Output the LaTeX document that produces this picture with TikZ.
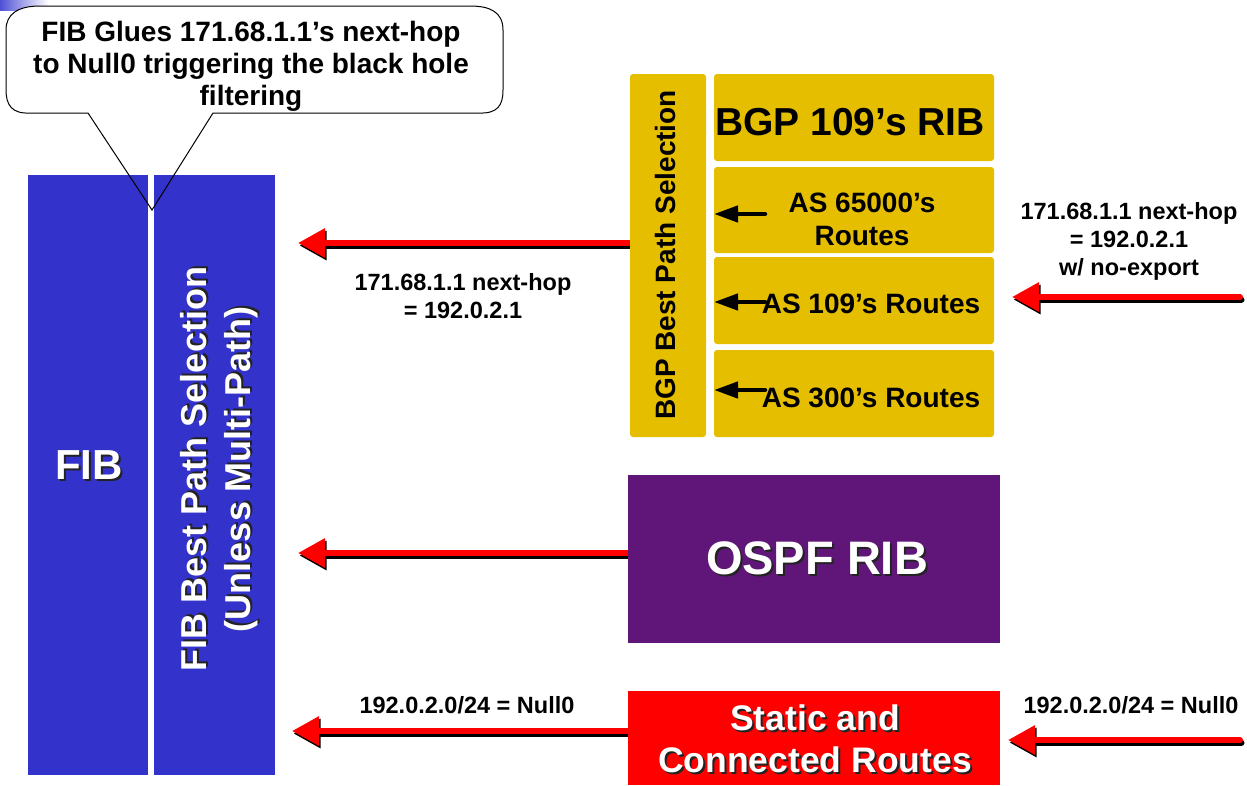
\documentclass[tikz,border=0pt]{standalone}
\usepackage{fontspec}
\setmainfont{Liberation Sans}
\usetikzlibrary{arrows.meta}
\definecolor{fibblue}{RGB}{51,51,204}
\definecolor{bgpgold}{RGB}{230,190,0}
\definecolor{ospfpurple}{RGB}{95,22,120}
\definecolor{shadowgray}{RGB}{35,35,35}
\definecolor{cornerblue}{RGB}{80,80,215}
% bold font of a given size and line spacing
\newcommand\fsz[2]{\fontsize{#1}{#2}\selectfont\bfseries}
% white lettering with a dark drop shadow
\newcommand\shd[1]{\leavevmode\rlap{\hspace{2pt}\raisebox{-2pt}{\textcolor{shadowgray}{#1}}}#1}
% outline of the speech bubble
\newcommand\bubblepath{(88,113) -- (152,210) -- (213,113) -- (478,113)
  .. controls (498,114) and (503,105) .. (503,90) -- (503,30)
  .. controls (503,12) and (490,6) .. (470,6) -- (40,6)
  .. controls (18,6) and (6,14) .. (6,30) -- (6,90)
  .. controls (6,105) and (12,114) .. (30,113) -- cycle}
\begin{document}
\begin{tikzpicture}[x=1pt,y=-1pt,
  panel/.style={draw=none, inner sep=0pt, outer sep=0pt},
  fibbar/.style={panel, fill=fibblue},
  goldbox/.style={panel, fill=bgpgold, rounded corners=3pt},
  txt/.style={inner sep=0pt, align=center, text=black},
  wtxt/.style={inner sep=0pt, align=center, text=white},
  fatarrow/.style={line width=6pt, line cap=round,
    -{Triangle[length=27pt,width=28pt]}},
  redarrow/.style={fatarrow, draw=red},
  arrowshadow/.style={fatarrow, draw=black},
  blackarrow/.style={draw=black, line width=4.5pt, line cap=round,
    -{Triangle[length=24pt,width=16pt]}},
  callout/.style={line width=1pt, line join=miter}
]
\useasboundingbox (0,0) rectangle (1247,785);
\fill[white] (0,0) rectangle (1247,785);
\shade[left color=cornerblue, right color=white] (0,0) rectangle (48,10);

% speech bubble body (fill first, outline after the bars)
\fill[white] \bubblepath;

% free ends of the connectors
\coordinate (t1) at (298,243);
\coordinate (t2) at (298,553);
\coordinate (t3) at (292,731);
\coordinate (s4) at (1240,297);
\coordinate (t4) at (1012,297);
\coordinate (s5) at (1240,740);
\coordinate (t5) at (1008,740);

% FIB columns
\node[fibbar, minimum width=120pt, minimum height=600pt] (fib) at (88,475) {};
\node[fibbar, minimum width=121pt, minimum height=600pt] (fibsel) at (214.5,475) {};
\node[wtxt, font=\fsz{42}{48}] (fibt) at (89,466) {\shd{FIB}};
\node[wtxt, font=\fsz{36}{44}, rotate=90] (fibselt) at (220,469)
  {\shd{FIB Best Path Selection}\\\shd{(Unless Multi-Path)}};

% speech bubble outline and text
\draw[callout] \bubblepath;
\node[txt, font=\fsz{28}{32}] (bubblet) at (251,66)
  {FIB Glues 171.68.1.1’s next-hop\\to Null0 triggering the black hole\\filtering};

% outlines of the source boxes, used as the arrows' start points
\node[panel, minimum width=76pt, minimum height=363pt] (bgpselshape) at (668,255.5) {};
\node[panel, minimum width=372pt, minimum height=168pt] (ospfshape) at (814,559) {};
\node[panel, minimum width=372pt, minimum height=94pt] (staticshape) at (814,738) {};

% red arrows with their dark drop shadow
\begin{scope}[transform canvas={shift={(1.5pt,-2.5pt)}}]
  \draw[arrowshadow] (t1 -| bgpselshape.west) -- (t1);
  \draw[arrowshadow] (t2 -| ospfshape.west) -- (t2);
  \draw[arrowshadow] (t3 -| staticshape.west) -- (t3);
  \draw[arrowshadow] (s4) -- (t4);
  \draw[arrowshadow] (s5) -- (t5);
\end{scope}
\draw[redarrow] (t1 -| bgpselshape.west) -- (t1);
\draw[redarrow] (t2 -| ospfshape.west) -- (t2);
\draw[redarrow] (t3 -| staticshape.west) -- (t3);
\draw[redarrow] (s4) -- (t4);
\draw[redarrow] (s5) -- (t5);

% BGP
\node[goldbox, minimum width=76pt, minimum height=363pt] (bgpsel) at (668,255.5) {};
\node[txt, font=\fsz{28}{34}, rotate=90] (bgpselt) at (665,255) {BGP Best Path Selection};
\node[goldbox, minimum width=280pt, minimum height=87pt] (rib) at (854,117.5) {};
\node[goldbox, minimum width=280pt, minimum height=86pt] (as65000) at (854,210) {};
\node[goldbox, minimum width=280pt, minimum height=87pt] (as109) at (854,300.5) {};
\node[goldbox, minimum width=280pt, minimum height=87pt] (as300) at (854,393.5) {};
\node[txt, font=\fsz{39}{44}] (ribt) at (850,122) {BGP 109’s RIB};
\node[txt, font=\fsz{28}{33}] (as65000t) at (862,219) {AS 65000’s\\Routes};
\node[txt, font=\fsz{28}{33}] (as109t) at (871,304) {AS 109’s Routes};
\node[txt, font=\fsz{28}{33}] (as300t) at (871,398) {AS 300’s Routes};
\coordinate (b1) at (765,214);
\coordinate (b2) at (765,302);
\coordinate (b3) at (765,390);
\draw[blackarrow] (b1) -- (b1 -| as65000.west);
\draw[blackarrow] (b2) -- (b2 -| as109.west);
\draw[blackarrow] (b3) -- (b3 -| as300.west);

% OSPF and static
\node[panel, fill=ospfpurple, minimum width=372pt, minimum height=168pt] (ospf) at (814,559) {};
\node[wtxt, font=\fsz{47}{54}] (ospft) at (817,559) {\shd{OSPF RIB}};
\node[panel, fill=red, minimum width=372pt, minimum height=94pt] (static) at (814,738) {};
\node[wtxt, font=\fsz{35.5}{42}] (statict) at (815,740) {\shd{Static and}\\\shd{Connected Routes}};

% arrow labels
\node[txt, font=\fsz{23.5}{28}] (lbl1) at (463,296) {171.68.1.1 next-hop\\= 192.0.2.1};
\node[txt, font=\fsz{23.5}{28}] (lbl2) at (1129,241) {171.68.1.1 next-hop\\= 192.0.2.1\\w/ no-export};
\node[txt, font=\fsz{23.5}{28}] (lbl3) at (467,705) {192.0.2.0/24 = Null0};
\node[txt, font=\fsz{23.5}{28}] (lbl4) at (1131,705) {192.0.2.0/24 = Null0};
\end{tikzpicture}
\end{document}
